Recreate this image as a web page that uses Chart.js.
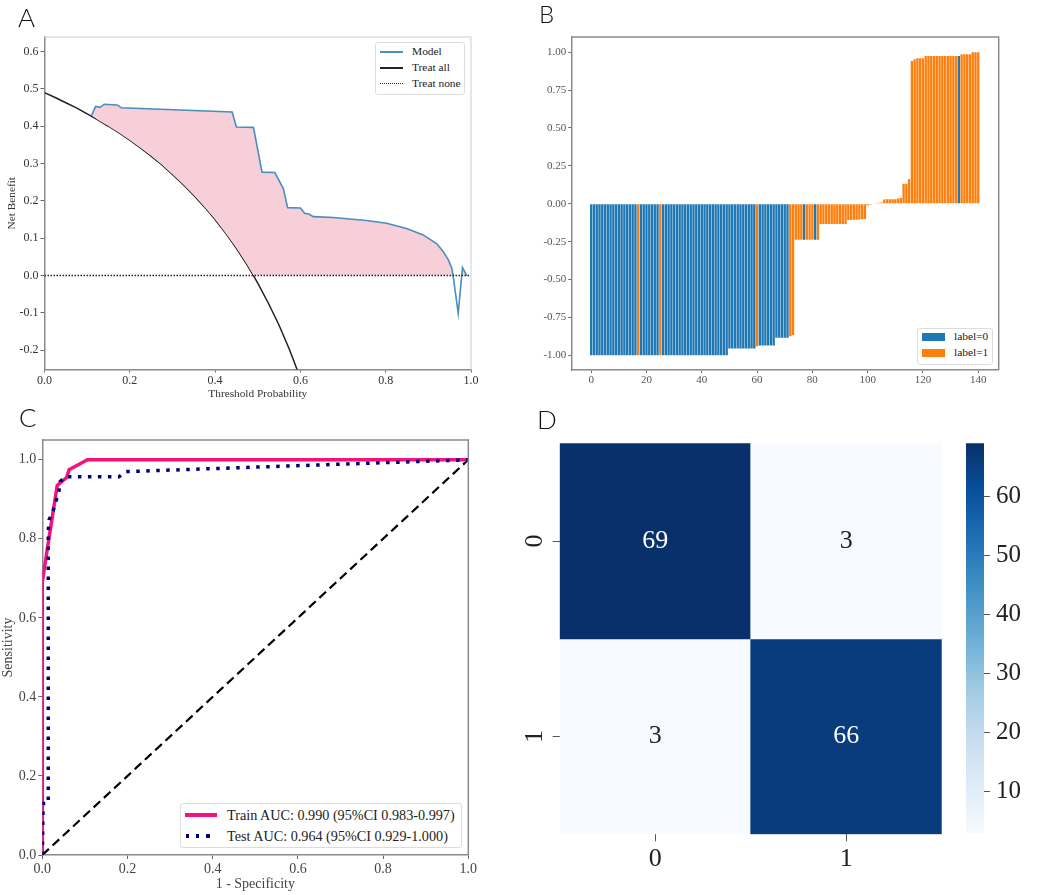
<!DOCTYPE html>
<html>
<head>
<meta charset="utf-8">
<title>Model evaluation panels</title>
<script src="https://cdn.jsdelivr.net/npm/chart.js@4/dist/chart.umd.min.js"></script>
<style>
  html, body { margin: 0; padding: 0; background: #fff; }
  #page { position: relative; width: 1052px; height: 895px; overflow: hidden; font-family: "Liberation Serif", serif; }
  canvas { position: absolute; }
  .letter { position: absolute; font-family: Lato, "Open Sans", sans-serif; font-weight: 300; font-size: 26px; line-height: 26px; color: #111; }
  .legend { position: absolute; box-sizing: border-box; background: #fff; border: 1px solid #dcdcdc; border-radius: 3px; color: #222; }
  .row { position: absolute; white-space: nowrap; line-height: 1; transform: translateY(-50%); }
  .swatch { position: absolute; }
</style>
</head>
<body>
<div id="page">
  <canvas id="dca" style="left:0;top:20px" width="490" height="381"></canvas>
  <canvas id="shap" style="left:530px;top:20px" width="510" height="372"></canvas>
  <canvas id="roc" style="left:0;top:425px" width="490" height="468"></canvas>
  <canvas id="cm" style="left:510px;top:430px" width="445" height="445"></canvas>
  <canvas id="cbar" style="left:950px;top:430px" width="102" height="420"></canvas>

  <div class="letter" style="left:18px;top:4px">A</div>
  <div class="letter" style="left:539px;top:1px;font-size:24px">B</div>
  <div class="letter" style="left:19px;top:404px">C</div>
  <div class="letter" style="left:537px;top:406px">D</div>

  <div class="legend" style="left:375px;top:42px;width:90px;height:53px;font-size:11.4px">
    <div class="swatch" style="left:4px;top:8px;width:23px;height:2px;background:#4a8dbf"></div>
    <div class="row" style="left:36px;top:9px">Model</div>
    <div class="swatch" style="left:4px;top:24px;width:23px;height:2px;background:#222"></div>
    <div class="row" style="left:36px;top:25px">Treat all</div>
    <div class="swatch" style="left:4px;top:40px;width:23px;height:0;border-top:1.5px dotted #333"></div>
    <div class="row" style="left:36px;top:41px">Treat none</div>
  </div>

  <div class="legend" style="left:917px;top:328px;width:76px;height:37px;font-size:11.4px">
    <div class="swatch" style="left:4px;top:4px;width:23px;height:8px;background:#1f77b4"></div>
    <div class="row" style="left:36px;top:8px">label=0</div>
    <div class="swatch" style="left:4px;top:20px;width:23px;height:8px;background:#ff7f0e"></div>
    <div class="row" style="left:36px;top:24px">label=1</div>
  </div>

  <div class="legend" style="left:180px;top:803px;width:282px;height:45px;font-size:14.2px">
    <div class="swatch" style="left:4px;top:9px;width:32px;height:3.5px;background:#f5127f"></div>
    <div class="row" style="left:46px;top:11px">Train AUC: 0.990 (95%CI 0.983-0.997)</div>
    <div class="swatch" style="left:5px;top:30px;width:30px;height:3.5px;background:repeating-linear-gradient(90deg,#000080 0 3.5px,transparent 3.5px 10px)"></div>
    <div class="row" style="left:46px;top:32px">Test AUC: 0.964 (95%CI 0.929-1.000)</div>
  </div>
</div>

<script>
// A - decision curve
const DCA_X_TICKS = [0, 0.2, 0.4, 0.6, 0.8, 1];
const DCA_Y_TICKS = [-0.2, -0.1, 0, 0.1, 0.2, 0.3, 0.4, 0.5, 0.6];
const MODEL_X = [0.11, 0.12, 0.13, 0.14, 0.17, 0.18, 0.44, 0.45, 0.49, 0.51, 0.54, 0.56, 0.57, 0.6, 0.61, 0.62, 0.63,
                 0.677, 0.755, 0.802, 0.849, 0.888, 0.92, 0.935, 0.947, 0.955, 0.958, 0.97, 0.98, 0.99];
const MODEL_Y = [0.4285, 0.453, 0.4505, 0.459, 0.457, 0.4495, 0.438, 0.398, 0.397, 0.277, 0.276, 0.233, 0.182, 0.181, 0.167, 0.165, 0.158,
                 0.1556, 0.1475, 0.1404, 0.126, 0.109, 0.085, 0.064, 0.042, 0.02, 0, -0.101, 0.0215, 0];
const TREAT_ALL_X = [0, 0.025, 0.05, 0.075, 0.1, 0.125, 0.15, 0.175, 0.2, 0.225, 0.25, 0.275, 0.3, 0.325, 0.35, 0.375, 0.4, 0.425, 0.45, 0.475, 0.49, 0.5, 0.525, 0.55, 0.575, 0.6];
const TREAT_ALL_Y = [0.49, 0.477, 0.463, 0.449, 0.433, 0.417, 0.4, 0.382, 0.3625, 0.342, 0.32, 0.297, 0.271, 0.244, 0.215, 0.184, 0.15, 0.113, 0.073, 0.029, 0, -0.02, -0.074, -0.133, -0.2, -0.275];
const TREAT_NONE_X = [0, 1];
const TREAT_NONE_Y = [0, 0];
// lower edge of the pink area: treat all until it crosses zero, then zero
const FILL_BASE_X = [0.11, 0.125, 0.15, 0.175, 0.2, 0.225, 0.25, 0.275, 0.3, 0.325, 0.35, 0.375, 0.4, 0.425, 0.45, 0.475, 0.49, 0.99];
const FILL_BASE_Y = [0.4285, 0.417, 0.4, 0.382, 0.3625, 0.342, 0.32, 0.297, 0.271, 0.244, 0.215, 0.184, 0.15, 0.113, 0.073, 0.029, 0, 0];

// B - sample scores, sorted
const SHAP_X_TICKS = [0, 20, 40, 60, 80, 100, 120, 140];
const SHAP_Y_TICKS = [-1, -0.75, -0.5, -0.25, 0, 0.25, 0.5, 0.75, 1];
const SHAP_VALUES = [
  -1, -1, -1, -1, -1, -1, -1, -1, -1, -1, -1, -1, -1, -1, -1, -1, -1, -1, -1, -1,
  -1, -1, -1, -1, -1, -1, -1, -1, -1, -1, -1, -1, -1, -1, -1, -1, -1, -1, -1, -1,
  -1, -1, -1, -1, -1, -1, -1, -1, -1, -1,
  -0.955, -0.955, -0.955, -0.955, -0.955, -0.955, -0.955, -0.955, -0.955, -0.955,
  -0.94, -0.936, -0.936, -0.936, -0.936, -0.936, -0.936,
  -0.885, -0.885, -0.885, -0.885, -0.885, -0.875, -0.866,
  -0.237, -0.237, -0.237, -0.237, -0.237, -0.237, -0.237, -0.237, -0.237,
  -0.134, -0.134, -0.134, -0.134, -0.134, -0.134, -0.134, -0.134, -0.134, -0.134,
  -0.108, -0.107, -0.106, -0.105, -0.104, -0.103, -0.1,
  -0.012, -0.006, 0, 0.005, 0.006, 0.008,
  0.028, 0.029, 0.03, 0.03, 0.03, 0.035, 0.037, 0.132, 0.132, 0.163,
  0.942, 0.953, 0.96, 0.96, 0.96,
  0.975, 0.975, 0.975, 0.975, 0.975, 0.975, 0.975, 0.975, 0.975, 0.975, 0.975, 0.975, 0.975,
  0.986, 0.986, 0.986, 0.986, 0.999, 0.999, 0.999
];
const SHAP_LABELS = [
  0, 0, 0, 0, 0, 0, 0, 0, 0, 0, 0, 0, 0, 0, 0, 0, 0, 1, 0, 0,
  0, 0, 0, 0, 0, 1, 0, 0, 0, 0, 0, 0, 0, 0, 0, 0, 0, 0, 0, 0,
  0, 0, 0, 0, 0, 0, 0, 0, 0, 0,
  0, 0, 0, 0, 0, 0, 0, 0, 0, 0,
  1, 0, 0, 0, 0, 0, 0,
  0, 0, 0, 0, 0, 1, 1,
  1, 1, 1, 0, 1, 1, 1, 0, 1,
  1, 1, 1, 1, 1, 1, 1, 1, 1, 1,
  1, 1, 1, 1, 1, 1, 1,
  1, 1, 1, 1, 1, 1,
  1, 1, 1, 1, 1, 1, 1, 1, 1, 1,
  1, 1, 1, 1, 1,
  1, 1, 1, 1, 1, 1, 1, 1, 1, 1, 1, 1, 0,
  1, 1, 1, 1, 1, 1, 1
];

// C - ROC
const ROC_X_TICKS = [0, 0.2, 0.4, 0.6, 0.8, 1];
const ROC_Y_TICKS = [0, 0.2, 0.4, 0.6, 0.8, 1];
const TRAIN_FPR = [0, 0, 0.014, 0.026, 0.03, 0.035, 0.057, 0.063, 0.106, 1];
const TRAIN_TPR = [0, 0.69, 0.79, 0.873, 0.9, 0.935, 0.955, 0.975, 1, 1];
const TEST_FPR = [0, 0.002, 0.014, 0.014, 0.016, 0.026, 0.032, 0.039, 0.042, 0.054, 0.18, 0.197, 1];
const TEST_TPR = [0, 0.13, 0.13, 0.82, 0.848, 0.873, 0.895, 0.92, 0.945, 0.957, 0.957, 0.97, 1];
const CHANCE_X = [0, 1];
const CHANCE_Y = [0, 1];

// D - confusion matrix
const CM_CATEGORIES = ['0', '1'];
const CM_ROW_0 = [69, 3];
const CM_ROW_1 = [3, 66];
const CBAR_TICKS = [10, 20, 30, 40, 50, 60];
const CBAR_MIN = 3;
const CBAR_MAX = 69;
const BLUES = ['#f7fbff', '#deebf7', '#c6dbef', '#9ecae1', '#6baed6', '#4292c6', '#2171b5', '#08519c', '#08306b'];

const SERIF = 'Liberation Serif';
Chart.defaults.font.family = SERIF;
Chart.defaults.animation = false;
Chart.defaults.responsive = false;
Chart.defaults.plugins.legend.display = false;
Chart.defaults.plugins.tooltip.enabled = false;

function points(xs, ys) {
  return xs.map((x, i) => ({ x: x, y: ys[i] }));
}

function bluesAt(value) {
  const pos = (value - CBAR_MIN) / (CBAR_MAX - CBAR_MIN) * (BLUES.length - 1);
  const i = Math.min(Math.floor(pos), BLUES.length - 2);
  const t = pos - i;
  const rgb = [1, 3, 5].map(k => {
    const a = parseInt(BLUES[i].substr(k, 2), 16);
    const b = parseInt(BLUES[i + 1].substr(k, 2), 16);
    return Math.round(a + (b - a) * t);
  });
  return 'rgb(' + rgb.join(',') + ')';
}

// the labels must not push the plot area around, it has to land on the exact same box
function pinScale(s, thickness) {
  if (s.isHorizontal()) s.height = thickness;
  else s.width = thickness;
  s.paddingTop = s.paddingBottom = s.paddingLeft = s.paddingRight = 0;
}

// one axis with fixed tick values and a fixed thickness
function axis(opts) {
  const scale = {
    type: opts.type || 'linear',
    position: opts.position,
    min: opts.min,
    max: opts.max,
    reverse: !!opts.reverse,
    offset: false,
    border: { display: opts.border !== false, color: opts.borderColor || '#8a8a8a', width: opts.borderWidth || 1.5 },
    grid: { display: true, offset: false, drawOnChartArea: false, drawTicks: true, tickLength: opts.tickLength || 4, color: opts.tickColor || '#666', lineWidth: 1 },
    ticks: {
      autoSkip: false,
      padding: opts.tickPadding === undefined ? 2 : opts.tickPadding,
      color: opts.color || '#333',
      font: { size: opts.fontSize || 12 },
      minRotation: opts.rotation || 0,
      maxRotation: opts.rotation || 0,
      crossAlign: opts.crossAlign || 'near',
      callback: opts.format
    },
    afterBuildTicks: s => { s.ticks = opts.ticks.map(v => ({ value: v })); },
    afterFit: s => pinScale(s, opts.thickness)
  };
  if (opts.title) {
    scale.title = { display: true, text: opts.title, color: opts.color || '#333', font: { size: opts.titleSize || 12 }, padding: opts.titlePadding || 0 };
  }
  return scale;
}

const framePlugin = {
  id: 'frame',
  afterDatasetsDraw(chart, args, options) {
    const a = chart.chartArea;
    const ctx = chart.ctx;
    ctx.save();
    ctx.strokeStyle = options.color;
    ctx.lineWidth = 1.5;
    ctx.beginPath();
    ctx.moveTo(a.left, a.top);
    ctx.lineTo(a.right, a.top);
    ctx.lineTo(a.right, a.bottom);
    ctx.stroke();
    ctx.restore();
  }
};

const cellTextPlugin = {
  id: 'cellText',
  afterDatasetsDraw(chart) {
    const ctx = chart.ctx;
    ctx.save();
    ctx.font = '26px "' + SERIF + '"';
    ctx.textAlign = 'center';
    ctx.textBaseline = 'middle';
    chart.data.datasets.forEach((ds, d) => {
      chart.getDatasetMeta(d).data.forEach((bar, i) => {
        const c = bar.getCenterPoint();
        ctx.fillStyle = ds.values[i] > 36 ? '#fff' : '#222';
        ctx.fillText(String(ds.values[i]), c.x, c.y);
      });
    });
    ctx.restore();
  }
};

// A
new Chart(document.getElementById('dca'), {
  type: 'scatter',
  plugins: [framePlugin],
  data: {
    datasets: [
      { label: 'Model', data: points(MODEL_X, MODEL_Y), showLine: true, borderColor: '#4a8dbf', borderWidth: 1.6, pointRadius: 0,
        fill: { target: 1, above: '#f7cfd9', below: 'rgba(0,0,0,0)' }, order: 1 },
      { label: 'fill base', data: points(FILL_BASE_X, FILL_BASE_Y), showLine: true, borderWidth: 0, borderColor: 'rgba(0,0,0,0)', pointRadius: 0, order: 4 },
      { label: 'Treat all', data: points(TREAT_ALL_X, TREAT_ALL_Y), showLine: true, borderColor: '#222', borderWidth: 1.5, pointRadius: 0, order: 2 },
      { label: 'Treat none', data: points(TREAT_NONE_X, TREAT_NONE_Y), showLine: true, borderColor: '#222', borderWidth: 1.5, borderDash: [1.5, 1.5], pointRadius: 0, order: 0 }
    ]
  },
  options: {
    layout: { padding: { top: 17, right: 19, bottom: 0, left: 0 } },
    plugins: { frame: { color: '#dedede' } },
    scales: {
      x: axis({ position: 'bottom', min: 0, max: 1, ticks: DCA_X_TICKS, thickness: 31.5, tickLength: 3, tickPadding: 1, format: v => v.toFixed(1), title: 'Threshold Probability', titleSize: 11.3 }),
      y: axis({ position: 'left', min: -0.2515, max: 0.639, ticks: DCA_Y_TICKS, thickness: 44.5, format: v => v.toFixed(1), title: 'Net Benefit', titleSize: 11.3, titlePadding: 5 })
    }
  }
});

// B
const LABEL0_X = SHAP_VALUES.map((v, i) => i).filter(i => SHAP_LABELS[i] === 0);
const LABEL1_X = SHAP_VALUES.map((v, i) => i).filter(i => SHAP_LABELS[i] === 1);
new Chart(document.getElementById('shap'), {
  type: 'bar',
  plugins: [framePlugin],
  data: {
    datasets: [
      { label: 'label=0', data: LABEL0_X.map(i => ({ x: i, y: SHAP_VALUES[i] })), backgroundColor: '#1f77b4', barPercentage: 0.85, categoryPercentage: 1, grouped: false },
      { label: 'label=1', data: LABEL1_X.map(i => ({ x: i, y: SHAP_VALUES[i] })), backgroundColor: '#ff7f0e', barPercentage: 0.85, categoryPercentage: 1, grouped: false }
    ]
  },
  options: {
    layout: { padding: { top: 17, right: 41.3, bottom: 0, left: 0 } },
    plugins: { frame: { color: '#8a8a8a' } },
    scales: {
      x: axis({ position: 'bottom', min: -7.2, max: 147.4, ticks: SHAP_X_TICKS, thickness: 22, tickLength: 3, tickPadding: 1, fontSize: 11, color: '#555', format: v => String(v) }),
      y: axis({ position: 'left', min: -1.097, max: 1.1, ticks: SHAP_Y_TICKS, thickness: 41.3, tickLength: 3, fontSize: 11, color: '#555', format: v => v.toFixed(2) })
    }
  }
});

// C
new Chart(document.getElementById('roc'), {
  type: 'scatter',
  plugins: [framePlugin],
  data: {
    datasets: [
      { label: 'chance', data: points(CHANCE_X, CHANCE_Y), showLine: true, borderColor: '#000', borderWidth: 2.2, borderDash: [9, 5], pointRadius: 0, order: 2 },
      { label: 'Test', data: points(TEST_FPR, TEST_TPR), showLine: true, borderColor: '#000080', borderWidth: 3.5, borderDash: [3.5, 6.5], pointRadius: 0, order: 0 },
      { label: 'Train', data: points(TRAIN_FPR, TRAIN_TPR), showLine: true, borderColor: '#f5127f', borderWidth: 3.5, pointRadius: 0, order: 1 }
    ]
  },
  options: {
    layout: { padding: { top: 15, right: 21.7, bottom: 0, left: 0 } },
    plugins: { frame: { color: '#8a8a8a' } },
    scales: {
      x: axis({ position: 'bottom', min: 0, max: 1, ticks: ROC_X_TICKS, thickness: 38, fontSize: 14, color: '#444', format: v => v.toFixed(1), title: '1 - Specificity', titleSize: 14 }),
      y: axis({ position: 'left', min: 0, max: 1.05, ticks: ROC_Y_TICKS, thickness: 42.3, fontSize: 14, color: '#444', format: v => v.toFixed(1), title: 'Sensitivity', titleSize: 14 })
    }
  }
});

// D
new Chart(document.getElementById('cm'), {
  type: 'bar',
  plugins: [cellTextPlugin],
  data: {
    labels: CM_CATEGORIES,
    datasets: [
      { label: 'row 0', values: CM_ROW_0, data: CM_ROW_0.map(() => [0, 1]), backgroundColor: CM_ROW_0.map(bluesAt), barPercentage: 1, categoryPercentage: 1, grouped: false },
      { label: 'row 1', values: CM_ROW_1, data: CM_ROW_1.map(() => [1, 2]), backgroundColor: CM_ROW_1.map(bluesAt), barPercentage: 1, categoryPercentage: 1, grouped: false }
    ]
  },
  options: {
    layout: { padding: { top: 13.3, right: 13.3, bottom: 0, left: 0 } },
    scales: {
      x: {
        type: 'category',
        position: 'bottom',
        offset: true,
        border: { display: false },
        grid: { display: true, offset: false, drawOnChartArea: false, drawTicks: true, tickLength: 7, color: '#555' },
        ticks: { color: '#222', font: { size: 26 }, padding: 2, maxRotation: 0 },
        afterFit: s => pinScale(s, 40.7)
      },
      y: axis({ position: 'left', min: 0, max: 2, reverse: true, ticks: [0.5, 1.5], border: false, tickLength: 7, tickColor: '#555', thickness: 49.7, fontSize: 26, color: '#222', rotation: 90, crossAlign: 'center', tickPadding: 11, format: v => CM_CATEGORIES[Math.floor(v)] })
    }
  }
});

// D - colour bar
new Chart(document.getElementById('cbar'), {
  type: 'bar',
  data: {
    labels: [''],
    datasets: [{
      label: 'count',
      data: [[CBAR_MIN, CBAR_MAX]],
      barPercentage: 1,
      categoryPercentage: 1,
      backgroundColor: ctx => {
        const area = ctx.chart.chartArea;
        if (!area) return BLUES[4];
        const g = ctx.chart.ctx.createLinearGradient(0, area.bottom, 0, area.top);
        BLUES.forEach((c, i) => g.addColorStop(i / (BLUES.length - 1), c));
        return g;
      }
    }]
  },
  options: {
    layout: { padding: { top: 13.3, right: 0, bottom: 17, left: 16 } },
    scales: {
      x: { type: 'category', display: false, afterFit: s => pinScale(s, 0) },
      y: axis({ position: 'right', min: CBAR_MIN, max: CBAR_MAX, ticks: CBAR_TICKS, border: false, tickLength: 6, tickColor: '#555', thickness: 68, fontSize: 25, color: '#222', tickPadding: 6, format: v => String(v) })
    }
  }
});
</script>
</body>
</html>
